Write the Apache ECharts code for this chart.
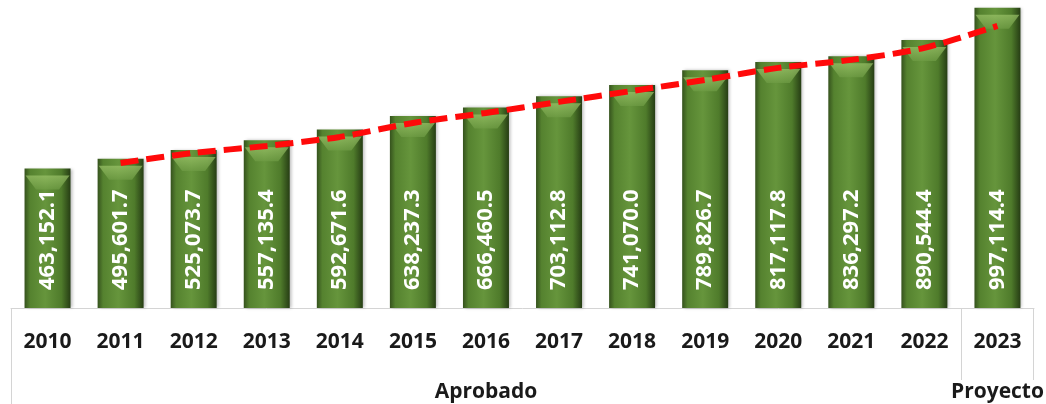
<!DOCTYPE html>
<html>
<head>
<meta charset="utf-8">
<script src="https://cdn.jsdelivr.net/npm/echarts@6/dist/echarts.min.js"></script>
<style>
  html, body { margin: 0; padding: 0; background: #ffffff; }
  #chart { width: 1046px; height: 404px; }
</style>
</head>
<body>
<div id="chart"></div>
<script>
// Presupuesto por año (aprobado 2010-2022, proyecto 2023)
const years = ['2010','2011','2012','2013','2014','2015','2016','2017','2018','2019','2020','2021','2022','2023'];
const amounts = [463152.1, 495601.7, 525073.7, 557135.4, 592671.6, 638237.3, 666460.5, 703112.8, 741070.0, 789826.7, 817117.8, 836297.2, 890544.4, 997114.4];
// Línea de tendencia (sin valor para 2010)
const trend = [null, 481900, 515200, 538400, 568400, 614900, 648100, 684700, 721200, 757800, 797700, 824300, 864200, 937300];
// Grupos bajo el eje
const groups = [
  { name: 'Aprobado', from: 0, to: 12 },
  { name: 'Proyecto', from: 13, to: 13 }
];

const chart = echarts.init(document.getElementById('chart'));
const FONT = '"Open Sans", "Liberation Sans", sans-serif';

const barFill = new echarts.graphic.LinearGradient(0, 0, 1, 0, [
  { offset: 0, color: '#35521d' },
  { offset: 0.12, color: '#55822f' },
  { offset: 0.45, color: '#66953c' },
  { offset: 0.8, color: '#4f7b2b' },
  { offset: 1, color: '#263d14' }
]);
const capFill = new echarts.graphic.LinearGradient(0, 0, 0, 1, [
  { offset: 0, color: '#9cc46a' },
  { offset: 1, color: '#6f9c45' }
]);

chart.setOption({
  animation: false,
  grid: { left: 11, right: 12, top: 7, bottom: 96 },
  xAxis: {
    type: 'category',
    data: years,
    axisLine: { show: true, lineStyle: { color: '#d4d4d4', width: 1 } },
    axisTick: { show: false },
    axisLabel: { color: '#1a1a1a', fontFamily: FONT, fontWeight: 'bold', fontSize: 21, margin: 24 }
  },
  yAxis: { type: 'value', min: 0, max: 1000000, show: false, splitLine: { show: false } },
  series: [
    {
      type: 'bar',
      data: amounts,
      barWidth: 46,
      barGap: '-100%',
      itemStyle: { color: barFill, shadowColor: 'rgba(0,0,0,0.25)', shadowBlur: 3, shadowOffsetX: 2 },
      label: {
        show: true,
        position: 'insideBottom',
        rotate: 90,
        align: 'left',
        verticalAlign: 'middle',
        distance: 18,
        color: '#ffffff',
        fontFamily: FONT,
        fontWeight: 'bold',
        fontSize: 22,
        formatter: p => p.value.toLocaleString('en-US', { minimumFractionDigits: 1, maximumFractionDigits: 1 })
      },
      z: 2
    },
    {
      // bisel superior de cada barra
      type: 'pictorialBar',
      data: amounts,
      barWidth: 46,
      barGap: '-100%',
      symbol: 'path://M0,0 L46,0 L35,14 L11,14 Z',
      symbolSize: [44, 14],
      symbolPosition: 'end',
      symbolOffset: [0, '50%'],
      itemStyle: { color: capFill, opacity: 0.7 },
      silent: true,
      z: 3
    },
    {
      type: 'line',
      data: trend,
      symbol: 'none',
      smooth: 0.3,
      lineStyle: { color: '#ff0a0a', width: 6, type: [18, 8], cap: 'butt' },
      z: 5
    }
  ]
});

// Tabla de grupos bajo el eje de categorías
function drawGroups() {
  const c0 = chart.convertToPixel({ xAxisIndex: 0 }, years[0]);
  const c1 = chart.convertToPixel({ xAxisIndex: 0 }, years[1]);
  const band = c1 - c0;
  const yTop = chart.convertToPixel({ yAxisIndex: 0 }, 0);
  const lineColor = '#d4d4d4';
  const elements = [];
  groups.forEach((g, i) => {
    const xa = chart.convertToPixel({ xAxisIndex: 0 }, years[g.from]) - band / 2;
    const xb = chart.convertToPixel({ xAxisIndex: 0 }, years[g.to]) + band / 2;
    elements.push({
      type: 'line', silent: true,
      shape: { x1: Math.round(xa) + 0.5, y1: yTop, x2: Math.round(xa) + 0.5, y2: i === 0 ? 404 : 380 },
      style: { stroke: lineColor, lineWidth: 1 }
    });
    if (i === groups.length - 1) {
      elements.push({
        type: 'line', silent: true,
        shape: { x1: Math.round(xb) - 0.5, y1: yTop, x2: Math.round(xb) - 0.5, y2: 380 },
        style: { stroke: lineColor, lineWidth: 1 }
      });
    }
    elements.push({
      type: 'text', silent: true,
      x: (xa + xb) / 2, y: 392,
      style: {
        text: g.name, fill: '#1a1a1a', font: 'bold 21px ' + FONT,
        align: 'center', verticalAlign: 'middle'
      }
    });
  });
  chart.setOption({ graphic: elements });
}
drawGroups();
</script>
</body>
</html>
